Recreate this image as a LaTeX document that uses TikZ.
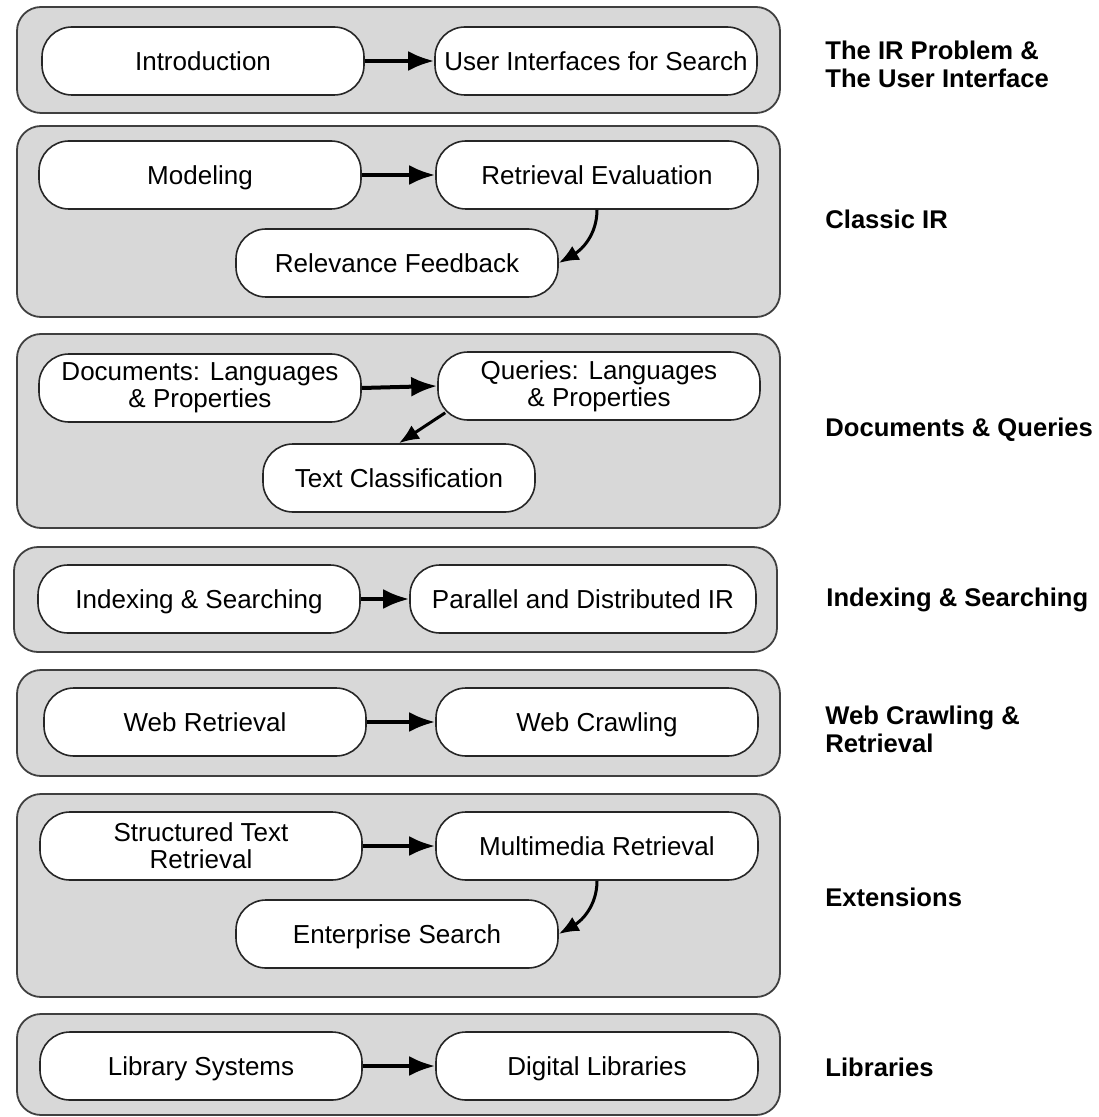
\documentclass[tikz,border=0pt]{standalone}
\usepackage{fontspec}
\setmainfont{Liberation Sans}
\usepackage{tikz}
\usetikzlibrary{arrows.meta}
\tikzset{>={Latex[length=13pt,width=10pt]}}
\usepackage{xcolor}
\definecolor{partcol}{RGB}{216,216,216}
\tikzstyle{part}=[draw=black!75,fill=partcol,line width=0.9pt,rounded corners=12pt]
\tikzstyle{topic}=[draw=black!85,fill=white,line width=0.8pt,rounded corners=15pt,
  minimum width=161pt,minimum height=34pt,inner sep=2pt,align=center,
  text height=12pt,text depth=2.7pt,
  font=\fontsize{13}{13.5}\selectfont]
\tikzstyle{twoline}=[text height={},text depth={}]
\tikzstyle{link}=[->,line width=2pt]
\tikzstyle{curvelink}=[-{Latex[length=10pt,width=8pt]},line width=1.5pt]
\tikzstyle{title}=[anchor=west,align=left,inner sep=0pt,
  font=\fontsize{12.8}{14}\selectfont\bfseries]

\begin{document}
\begin{tikzpicture}[x=0.5pt,y=-0.5pt]
  \useasboundingbox (0,0) rectangle (1098,1117);

  % part 1
  \draw[part] (17,7) rectangle (780,113);
  \node[topic] (intro) at (203,61) {Introduction};
  \node[topic] (ui) at (596,61) {User Interfaces for Search};
  \draw[link] (intro.east) -- (ui.west);
  \node[title] (t1) at (825,64) {The IR Problem \&\\The User Interface};

  % part 2
  \draw[part] (17,126) rectangle (780,317);
  \node[topic] (model) at (200,175) {Modeling};
  \node[topic] (eval) at (597,175) {Retrieval Evaluation};
  \node[topic] (feed) at (397,263) {Relevance Feedback};
  \draw[link] (model.east) -- (eval.west);
  \draw[curvelink] (eval.south) to[out=-90,in=30] (feed.east);
  \node[title] (t2) at (825,219) {Classic IR};

  % part 3
  \draw[part] (17,334) rectangle (780,528);
  \node[topic,twoline] (docs) at (200,388) {Documents: Languages\\\& Properties};
  \node[topic,twoline] (query) at (599,386) {Queries: Languages\\\& Properties};
  \node[topic,minimum width=136pt] (class) at (399,478) {Text Classification};
  \draw[link] (docs.east) -- (query.west);
  \draw[curvelink] ([shift={(4pt,4pt)}]query.south west) -- (class.north);
  \node[title] (t3) at (825,430) {Documents \& Queries};

  % part 4
  \draw[part] (14,547) rectangle (777,652);
  \node[topic] (index) at (199,599) {Indexing \& Searching};
  \node[topic,minimum width=173pt] (para) at (583,599) {Parallel and Distributed IR};
  \draw[link] (index.east) -- (para.west);
  \node[title] (t4) at (826,600) {Indexing \& Searching};

  % part 5
  \draw[part] (17,670) rectangle (780,776);
  \node[topic] (webret) at (205,722) {Web Retrieval};
  \node[topic] (crawl) at (597,722) {Web Crawling};
  \draw[link] (webret.east) -- (crawl.west);
  \node[title] (t5) at (825,729) {Web Crawling \&\\Retrieval};

  % part 6
  \draw[part] (17,794) rectangle (780,997);
  \node[topic,twoline] (struct) at (201,846) {Structured Text\\Retrieval};
  \node[topic] (multi) at (597,846) {Multimedia Retrieval};
  \node[topic] (enter) at (397,934) {Enterprise Search};
  \draw[link] (struct.east) -- (multi.west);
  \draw[curvelink] (multi.south) to[out=-90,in=30] (enter.east);
  \node[title] (t6) at (825,897) {Extensions};

  % part 7
  \draw[part] (17,1014) rectangle (780,1115);
  \node[topic] (libsys) at (201,1066) {Library Systems};
  \node[topic] (diglib) at (597,1066) {Digital Libraries};
  \draw[link] (libsys.east) -- (diglib.west);
  \node[title] (t7) at (825,1067) {Libraries};

\end{tikzpicture}
\end{document}
